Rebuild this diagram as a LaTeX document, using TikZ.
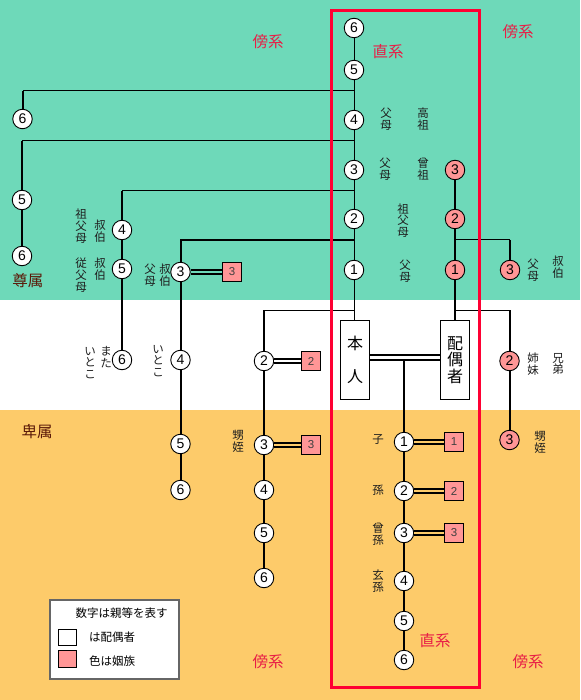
\documentclass[tikz,border=0pt]{standalone}
\usepackage{fontspec}
\newfontfamily\jp{Noto Sans CJK JP}
\newfontfamily\num{Liberation Sans}
\definecolor{teal1}{RGB}{110,217,185}
\definecolor{orange1}{RGB}{253,203,106}
\definecolor{pinkc}{RGB}{255,150,150}
\definecolor{redbox}{RGB}{255,0,51}
\definecolor{redtxt}{RGB}{232,30,70}
\definecolor{browntxt}{RGB}{90,25,8}
\definecolor{labc}{RGB}{30,30,30}
\begin{document}
\begin{tikzpicture}[x=1pt,y=-1pt,
  thn/.style={line width=1pt},
  thk/.style={line width=2pt},
  dbl/.style={double=#1, double distance=2pt, line width=1.7pt},
  circ/.style={circle, draw, line width=0.9pt, fill=white, minimum size=19.5pt, inner sep=0pt, font=\num\fontsize{14}{14}\selectfont},
  pcirc/.style={circ, fill=pinkc},
  sq/.style={rectangle, draw, line width=0.8pt, fill=pinkc, minimum size=18.5pt, inner sep=0pt, font=\num\fontsize{11.5}{12}\selectfont, text=black!75},
  lab/.style={font=\jp\fontsize{11.5}{11.8}\selectfont, align=center, inner sep=0pt, text=labc},
  region/.style={font=\jp\fontsize{15.5}{15.5}\selectfont, inner sep=0pt, text=redtxt},
  zoku/.style={font=\jp\fontsize{15.5}{15.5}\selectfont, inner sep=0pt, text=browntxt},
  person/.style={rectangle, draw, line width=0.8pt, fill=white, minimum width=29pt, minimum height=79pt, inner sep=0pt, align=center}
]
\useasboundingbox (0,0) rectangle (580,700);
% backgrounds
\fill[teal1] (0,0) rectangle (580,300);
\fill[white] (0,300) rectangle (580,410);
\fill[orange1] (0,410) rectangle (580,700);

% main line
\node[circ] (m6) at (354,28) {6};
\node[circ] (m5) at (354,70) {5};
\node[circ] (m4) at (354,120) {4};
\node[circ] (m3) at (354,170) {3};
\node[circ] (m2) at (354,219) {2};
\node[circ] (m1) at (354,270) {1};
\node[person, font=\jp\fontsize{16}{33}\selectfont] (honnin) at (355,360) {本\\人};
\node[person, font=\jp\fontsize{16}{16.5}\selectfont] (haigu) at (455,360) {配\\偶\\者};

% spouse side
\node[pcirc] (p3) at (455,170) {3};
\node[pcirc] (p2) at (455,219) {2};
\node[pcirc] (p1) at (455,270) {1};
\node[pcirc] (pu) at (510,270) {3};
\node[pcirc] (ps) at (509.5,361) {2};
\node[pcirc] (pn) at (509.5,440) {3};

% left branches
\node[circ] (a6) at (22.5,119) {6};
\node[circ] (b5) at (22,200) {5};
\node[circ] (b6) at (22,256) {6};
\node[circ] (c4) at (122,230) {4};
\node[circ] (c5) at (122,269) {5};
\node[circ] (c6) at (122,360) {6};
\node[circ] (d3) at (180.5,272) {3};
\node[sq] (ds) at (232,272) {3};
\node[circ] (d4) at (180.5,360) {4};
\node[circ] (d5) at (180.5,444) {5};
\node[circ] (d6) at (180.5,490) {6};
\node[circ] (e2) at (264,361) {2};
\node[sq] (es2) at (311,361) {2};
\node[circ] (e3) at (264,445) {3};
\node[sq] (es3) at (311,445) {3};
\node[circ] (e4) at (264,490) {4};
\node[circ] (e5) at (264,533) {5};
\node[circ] (e6) at (264,578) {6};

% descendants
\node[circ] (k1) at (404,442) {1};
\node[sq] (ks1) at (454,442) {1};
\node[circ] (k2) at (404,491) {2};
\node[sq] (ks2) at (454,491) {2};
\node[circ] (k3) at (404,533) {3};
\node[sq] (ks3) at (454,533) {3};
\node[circ] (k4) at (404,581) {4};
\node[circ] (k5) at (404,621) {5};
\node[circ] (k6) at (404,660) {6};

% junctions
\coordinate (ja) at (354,91);
\coordinate (jb) at (354,141);
\coordinate (jc) at (354,191);
\coordinate (jd) at (354,240);
\coordinate (je) at (354,310);
\coordinate (jpu) at (455,240);
\coordinate (jps) at (455,310);
\coordinate (kj) at (404,359);

% connectors: main column
\draw[thn] (m6) -- (m5);
\draw[thn] (m5) -- (m4);
\draw[thn] (m4) -- (m3);
\draw[thn] (m3) -- (m2);
\draw[thn] (m2) -- (m1);
\draw[thn] (m1) -- (m1 |- honnin.north);
% spouse column
\draw[thk] (p3) -- (p2);
\draw[thk] (p2) -- (p1);
\draw[thk] (p1) -- (p1 |- haigu.north);
\draw[thn] (jpu) -- (jpu -| pu);
\draw[thk] (jpu -| pu) -- (pu);
\draw[thn] (jps) -- (jps -| ps);
\draw[thk] (jps -| ps) -- (ps);
\draw[thk] (ps) -- (pn);
% left branches
\draw[thn] (ja) -- (ja -| a6);
\draw[thk] (ja -| a6) -- (a6);
\draw[thn] (jb) -- (jb -| b5);
\draw[thk] (jb -| b5) -- (b5);
\draw[thk] (b5) -- (b6);
\draw[thn] (jc) -- (jc -| c4);
\draw[thk] (jc -| c4) -- (c4);
\draw[thk] (c4) -- (c5);
\draw[thk] (c5) -- (c6);
\draw[thk] (jd) -- (jd -| d3) -- (d3);
\draw[thk] (d3) -- (d4);
\draw[thk] (d4) -- (d5);
\draw[thk] (d5) -- (d6);
\draw[dbl=teal1] (d3) -- (ds);
\draw[thn] (je) -- (je -| e2);
\draw[thk] (je -| e2) -- (e2);
\draw[thk] (e2) -- (e3);
\draw[thk] (e3) -- (e4);
\draw[thk] (e4) -- (e5);
\draw[thk] (e5) -- (e6);
\draw[dbl=white] (e2) -- (es2);
\draw[dbl=orange1] (e3) -- (es3);
% couple and descendants
\draw[double=white, double distance=3pt, line width=2pt] ([yshift=3pt]honnin.east) -- ([yshift=3pt]haigu.west);
\draw[thk] (kj) -- (k1);
\draw[thk] (k1) -- (k2);
\draw[thk] (k2) -- (k3);
\draw[thk] (k3) -- (k4);
\draw[thk] (k4) -- (k5);
\draw[thk] (k5) -- (k6);
\draw[dbl=orange1] (k1) -- (ks1);
\draw[dbl=orange1] (k2) -- (ks2);
\draw[dbl=orange1] (k3) -- (ks3);

% red frame
\draw[redbox, line width=3pt] (331.5,10.5) rectangle (479.5,687.5);

% labels
\node[lab] (t1) at (386,119.5) {父\\母};
\node[lab] (t2) at (423,119.5) {高\\祖};
\node[lab] (t3) at (385,169.5) {父\\母};
\node[lab] (t4) at (423,169.5) {曾\\祖};
\node[lab] (t5) at (403,220.5) {祖\\父\\母};
\node[lab] (t6) at (405,271) {父\\母};
\node[lab] (t7) at (533,270) {父\\母};
\node[lab] (t8) at (558,267) {叔\\伯};
\node[lab] (t9) at (533,364) {姉\\妹};
\node[lab] (t10) at (558,364) {兄\\弟};
\node[lab] (t11) at (540,442.5) {甥\\姪};
\node[lab] (t12) at (81,226) {祖\\父\\母};
\node[lab] (t13) at (100,231) {叔\\伯};
\node[lab] (t14) at (81,275) {従\\父\\母};
\node[lab] (t15) at (100,269) {叔\\伯};
\node[lab] (t16) at (150,275) {父\\母};
\node[lab] (t17) at (165,275) {叔\\伯};
\node[lab] (t18) at (106,357.5) {ま\\た};
\node[lab] (t19) at (90,363) {い\\と\\こ};
\node[lab] (t20) at (158,361) {い\\と\\こ};
\node[lab] (t21) at (238,441) {甥\\姪};
\node[lab] (t22) at (378,440) {子};
\node[lab] (t23) at (378,490) {孫};
\node[lab] (t24) at (378,534) {曾\\孫};
\node[lab] (t25) at (378,581) {玄\\孫};

% region labels
\node[region] (r1) at (268,42) {傍系};
\node[region] (r2) at (518,32) {傍系};
\node[region] (r3) at (268,662) {傍系};
\node[region] (r4) at (528,662) {傍系};
\node[region] (r5) at (388,52) {直系};
\node[region] (r6) at (435,641) {直系};
\node[zoku] (z1) at (28,281) {尊属};
\node[zoku] (z2) at (37,432) {卑属};

% legend
\node[rectangle, draw=black!60, line width=2pt, fill=white, minimum width=129pt, minimum height=79pt] (legend) at (114.5,639.5) {};
\node[font=\jp\fontsize{11.5}{12}\selectfont, inner sep=0pt] (lg1) at (121.5,613) {数字は親等を表す};
\node[rectangle, draw, line width=1pt, fill=white, minimum width=18pt, minimum height=16pt, inner sep=0pt] (lw) at (67.5,637) {};
\node[font=\jp\fontsize{11.5}{12}\selectfont, inner sep=0pt] (lg2) at (112,637.5) {は配偶者};
\node[rectangle, draw, line width=1pt, fill=pinkc, minimum width=18pt, minimum height=17pt, inner sep=0pt] (lp) at (67.5,659) {};
\node[font=\jp\fontsize{11.5}{12}\selectfont, inner sep=0pt] (lg3) at (112,661) {色は姻族};
\end{tikzpicture}
\end{document}
